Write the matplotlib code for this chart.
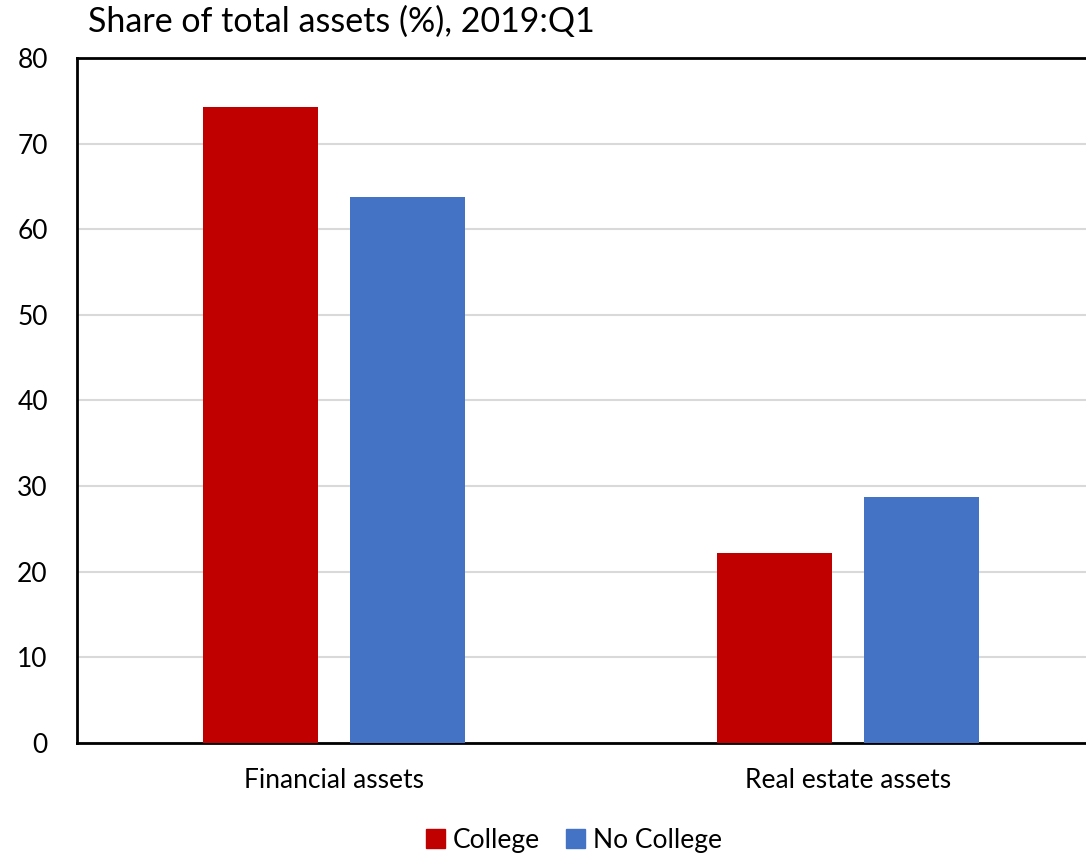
import numpy as np
import matplotlib
matplotlib.use("Agg")
import matplotlib.pyplot as plt
from matplotlib.patches import Patch

plt.rcParams['font.family'] = ['Lato', 'DejaVu Sans']

categories = ["Financial assets", "Real estate assets"]
college = [74.3, 22.2]
no_college = [63.8, 28.7]

fig = plt.figure(figsize=(10.86, 8.55), dpi=100)
ax = fig.add_axes([77/1086, 112/855, 1028/1086, 685/855])

x = np.arange(len(categories))
w = 0.223
off = 0.143
ax.bar(x - off, college, w, color="#c00000", zorder=3)
ax.bar(x + off, no_college, w, color="#4472c4", zorder=3)

ax.set_xlim(-0.5, 1.5)
ax.set_ylim(0, 80)
ax.set_yticks(range(0, 81, 10))
ax.yaxis.grid(True, color="#d9d9d9", linewidth=1.5, zorder=0)
ax.set_axisbelow(True)
ax.set_xticks(x)
ax.set_xticklabels(categories)
ax.tick_params(axis='both', length=0, labelsize=19)
ax.tick_params(axis='x', pad=18)
ax.tick_params(axis='y', pad=21)
for s in ['left', 'top', 'bottom']:
    ax.spines[s].set_linewidth(2)
    ax.spines[s].set_color("black")
ax.spines['right'].set_visible(False)

fig.text(88/1086, 1 - 22/855, "Share of total assets (%), 2019:Q1", fontsize=24.5,
         va='center', ha='left')

handles = [Patch(color="#c00000", label="College"),
           Patch(color="#4472c4", label="No College")]
fig.legend(handles=handles, loc='center', bbox_to_anchor=(574/1086, 1 - 840/855),
           ncol=2, frameon=False, fontsize=19, handlelength=0.7, handleheight=0.7,
           handletextpad=0.3, columnspacing=1.0)

fig.savefig("out.png", dpi=100)
